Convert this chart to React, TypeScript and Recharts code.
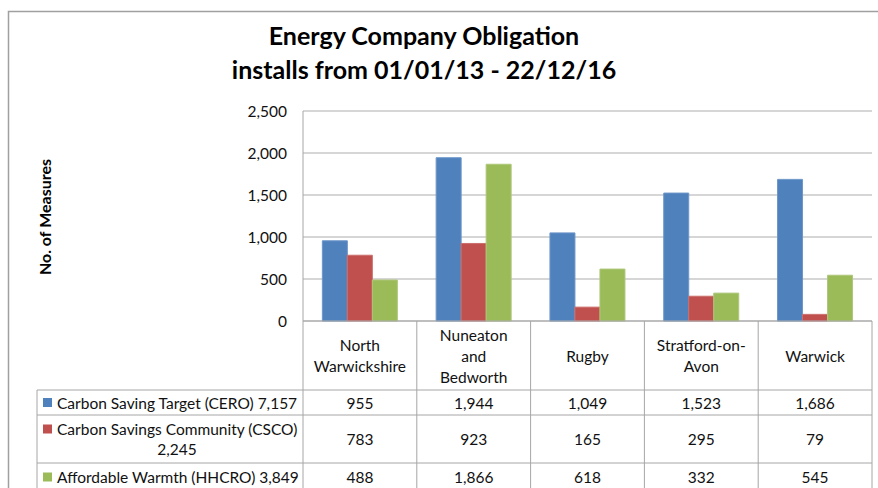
import React from "react";
import { BarChart, Bar, XAxis, YAxis, CartesianGrid, Customized } from "recharts";

const categories = ["North Warwickshire", "Nuneaton and Bedworth", "Rugby", "Stratford-on-Avon", "Warwick"];
const categoryLines = [["North", "Warwickshire"], ["Nuneaton", "and", "Bedworth"], ["Rugby"], ["Stratford-on-", "Avon"], ["Warwick"]];
const ceroValues = [955, 1944, 1049, 1523, 1686];
const cscoValues = [783, 923, 165, 295, 79];
const hhcroValues = [488, 1866, 618, 332, 545];
const seriesNames = [
  ["Carbon Saving Target (CERO) 7,157"],
  ["Carbon Savings Community (CSCO)", "2,245"],
  ["Affordable Warmth (HHCRO) 3,849"],
];
const yTicks = [0, 500, 1000, 1500, 2000, 2500];
const titleLines = ["Energy Company Obligation", "installs from 01/01/13 - 22/12/16"];
const yLabel = "No. of Measures";

const colors = ["#4F81BD", "#C0504D", "#9BBB59"];
const strokes = ["#6D96C9", "#CB6F6C", "#ADC77A"];
const seriesKeys = ["cero", "csco", "hhcro"];
const seriesValues = [ceroValues, cscoValues, hhcroValues];

const data = categories.map((c, i) => ({
  name: c,
  cero: ceroValues[i],
  csco: cscoValues[i],
  hhcro: hhcroValues[i],
}));

const W = 878;
const H = 488;
const PLOT_LEFT = 303;
const PLOT_RIGHT = 872;
const FONT = "Lato, 'Open Sans', sans-serif";
const LINE = "#A6A6A6";
const TXT = 15.5;
const fmt = (v: number) => v.toLocaleString("en-US");

// table row geometry (offsets from the axis line)
const HEADER_H = 69;
const ROW_TOPS = [69, 94, 142];
const ROW_BOTTOMS = [94, 142, 170];

const TableTick = (props: any) => {
  const { x, y, payload } = props;
  const idx = payload.index;
  const band = (PLOT_RIGHT - PLOT_LEFT) / categories.length;
  const left = x - band / 2;
  const right = x + band / 2;
  const lines = categoryLines[idx];
  const lh = 21;
  const startY = y + HEADER_H / 2 - ((lines.length - 1) * lh) / 2;
  return (
    <g fontFamily={FONT} fontSize={TXT} fill="#111">
      <line x1={right} y1={y} x2={right} y2={H} stroke={LINE} strokeWidth={1} />
      {idx === 0 && <line x1={left} y1={y} x2={left} y2={H} stroke={LINE} strokeWidth={1} />}
      {lines.map((t, k) => (
        <text key={k} x={x} y={startY + k * lh} textAnchor="middle" dominantBaseline="central">
          {t}
        </text>
      ))}
      {seriesValues.map((vals, s) => (
        <text key={s} x={x} y={y + (ROW_TOPS[s] + ROW_BOTTOMS[s]) / 2} textAnchor="middle" dominantBaseline="central">
          {fmt(vals[idx])}
        </text>
      ))}
      {idx === 0 && (
        <g>
          <line x1={37} y1={y + HEADER_H} x2={37} y2={H} stroke={LINE} strokeWidth={1} />
          {ROW_TOPS.map((t, k) => (
            <line key={k} x1={37} y1={y + t} x2={PLOT_RIGHT} y2={y + t} stroke={LINE} strokeWidth={1} />
          ))}
          {seriesNames.map((nm, s) => {
            const cy = y + (ROW_TOPS[s] + ROW_BOTTOMS[s]) / 2;
            if (nm.length === 1) {
              return (
                <g key={s}>
                  <rect x={43} y={cy - 4.5} width={9} height={9} fill={colors[s]} />
                  <text x={57} y={cy} dominantBaseline="central">{nm[0]}</text>
                </g>
              );
            }
            return (
              <g key={s}>
                <rect x={43} y={cy - 10 - 4.5} width={9} height={9} fill={colors[s]} />
                <text x={57} y={cy - 10} dominantBaseline="central">{nm[0]}</text>
                <text x={177} y={cy + 10} textAnchor="middle" dominantBaseline="central">{nm[1]}</text>
              </g>
            );
          })}
        </g>
      )}
    </g>
  );
};

const Decorations = () => (
  <g fontFamily={FONT}>
    <path d={`M8.5,${H} V11.5 H${W}`} fill="none" stroke="#A0A0A0" strokeWidth={1.5} />
    {titleLines.map((t, i) => (
      <text key={i} x={424} y={35 + i * 34} textAnchor="middle" dominantBaseline="central" fontSize={25} fontWeight={700} fill="#000">
        {t}
      </text>
    ))}
    <text x={44} y={217} transform="rotate(-90 44 217)" textAnchor="middle" dominantBaseline="central" fontSize={16} fontWeight={700} fill="#000">
      {yLabel}
    </text>
  </g>
);

export default function App() {
  return (
    <div style={{ position: "absolute", left: 0, top: 0, background: "#fff" }}>
      <BarChart
        width={W}
        height={H}
        data={data}
        margin={{ top: 111, right: W - PLOT_RIGHT, bottom: 0, left: 0 }}
        barCategoryGap="17%"
        barGap={0}
      >
        <CartesianGrid vertical={false} stroke="#ADADAD" strokeWidth={1} />
        <YAxis
          width={PLOT_LEFT}
          domain={[0, 2500]}
          ticks={yTicks}
          tickFormatter={fmt}
          tickLine={false}
          tickSize={0}
          tickMargin={16}
          axisLine={{ stroke: LINE }}
          tick={{ fontSize: TXT, fill: "#111", fontFamily: FONT }}
          interval={0}
        />
        <XAxis
          dataKey="name"
          height={H - 111 - 210}
          tickLine={false}
          tickSize={0}
          tickMargin={0}
          axisLine={{ stroke: LINE }}
          tick={<TableTick />}
          interval={0}
        />
        {seriesKeys.map((k, i) => (
          <Bar key={k} dataKey={k} fill={colors[i]} stroke={strokes[i]} strokeWidth={1} isAnimationActive={false} />
        ))}
        <Customized component={Decorations} />
      </BarChart>
    </div>
  );
}
